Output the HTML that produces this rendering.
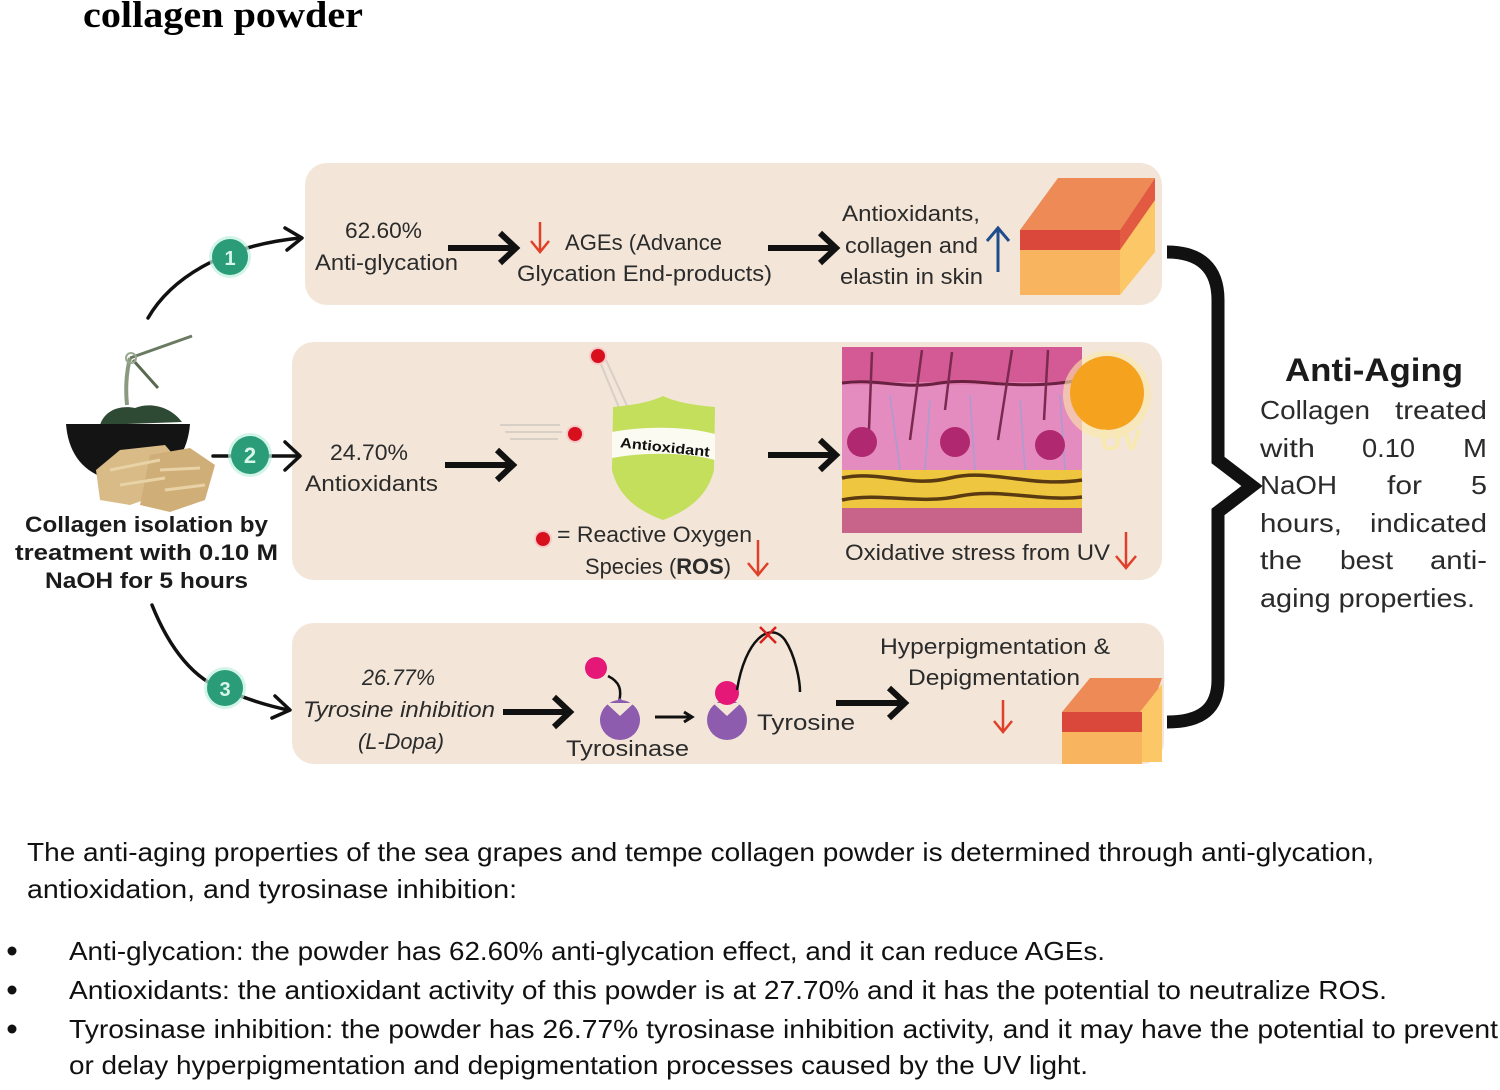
<!DOCTYPE html>
<html><head><meta charset="utf-8"><style>
html,body{margin:0;padding:0;background:#fff;}
svg{display:block;}
text{font-family:"Liberation Sans",sans-serif;fill:#2b2b2b;}
.t{font-size:22px;}
.b{font-size:26px;fill:#111;}
</style></head><body>
<svg width="1500" height="1090" viewBox="0 0 1500 1090" xmlns="http://www.w3.org/2000/svg">
<!-- title -->
<text x="83" y="27" style="font-family:'Liberation Serif',serif;font-weight:bold;font-size:37px;fill:#000" textLength="280" lengthAdjust="spacingAndGlyphs">collagen powder</text>

<!-- panels -->
<rect x="305" y="163" width="857" height="142" rx="22" fill="#f3e6d8"/>
<rect x="292" y="342" width="870" height="238" rx="22" fill="#f3e6d8"/>
<rect x="292" y="623" width="872" height="141" rx="22" fill="#f3e6d8"/>

<!-- left plant / bowl / tempe -->
<g>
 <path d="M127,405 C125,385 127,370 130,358" stroke="#8a9a80" stroke-width="4" fill="none"/>
 <path d="M130,358 L192,336" stroke="#6a7a60" stroke-width="3" fill="none"/>
 <path d="M133,360 L158,388" stroke="#5a6a50" stroke-width="3" fill="none"/>
 <circle cx="131" cy="358" r="5" fill="none" stroke="#9aa890" stroke-width="2"/>
 <path d="M100,425 C105,410 120,405 135,408 C150,402 170,406 182,422 Z" fill="#2f4a34"/>
 <path d="M66,424 L190,424 C188,450 175,472 150,478 L105,478 C80,470 68,450 66,424 Z" fill="#141414"/>
 <path d="M96,470 L120,450 L165,445 L178,460 L172,490 L130,505 L100,500 Z" fill="#d9bb87"/>
 <path d="M150,455 L190,448 L215,465 L205,500 L170,512 L140,505 Z" fill="#cfae78"/>
 <path d="M110,470 L160,460 M120,485 L165,478 M160,470 L200,468 M165,490 L205,485" stroke="#e8d2a6" stroke-width="3" fill="none"/>
</g>
<text x="25" y="532" style="font-weight:bold;font-size:22px;fill:#1b1b1b" textLength="243" lengthAdjust="spacingAndGlyphs">Collagen isolation by</text>
<text x="15" y="560" style="font-weight:bold;font-size:22px;fill:#1b1b1b" textLength="263" lengthAdjust="spacingAndGlyphs">treatment with 0.10 M</text>
<text x="45" y="588" style="font-weight:bold;font-size:22px;fill:#1b1b1b" textLength="203" lengthAdjust="spacingAndGlyphs">NaOH for 5 hours</text>

<!-- connectors -->
<g stroke="#111" fill="none" stroke-linecap="round" stroke-linejoin="round">
 <path d="M148,318 C170,280 220,246 300,238" stroke-width="3.5"/>
 <polyline points="285,228 302,238 287,250" stroke-width="3.5"/>
 <path d="M213,456 L298,456" stroke-width="3.5"/>
 <polyline points="285,442 300,456 285,470" stroke-width="3.5"/>
 <path d="M152,605 C170,650 195,680 225,690 C250,700 265,705 288,710" stroke-width="3.5"/>
 <polyline points="275,696 290,710 272,718" stroke-width="3.5"/>
</g>
<g>
 <circle cx="230" cy="257" r="21" fill="#bff0e0" opacity="0.7"/>
 <circle cx="230" cy="257" r="18" fill="#2a9d78"/>
 <text x="230" y="265" text-anchor="middle" style="font-size:20px;font-weight:bold;fill:#d8f5ea">1</text>
 <circle cx="250" cy="455" r="22" fill="#bff0e0" opacity="0.7"/>
 <circle cx="250" cy="455" r="19" fill="#2a9d78"/>
 <text x="250" y="463" text-anchor="middle" style="font-size:22px;font-weight:bold;fill:#d8f5ea">2</text>
 <circle cx="225" cy="688" r="21" fill="#bff0e0" opacity="0.7"/>
 <circle cx="225" cy="688" r="18" fill="#2a9d78"/>
 <text x="225" y="696" text-anchor="middle" style="font-size:20px;font-weight:bold;fill:#d8f5ea">3</text>
</g>

<!-- thick arrows -->
<g stroke="#111" fill="none" stroke-width="6" stroke-linejoin="miter">
 <path d="M448,248 L514,248"/><polyline points="500,233 516,248 500,263"/>
 <path d="M768,248 L834,248"/><polyline points="820,233 836,248 820,263"/>
 <path d="M445,465 L511,465"/><polyline points="497,450 513,465 497,480"/>
 <path d="M768,455 L834,455"/><polyline points="820,440 836,455 820,470"/>
 <path d="M503,712 L568,712"/><polyline points="554,697 570,712 554,727"/>
 <path d="M836,703 L903,703"/><polyline points="889,688 905,703 889,718"/>
</g>
<g stroke="#111" fill="none" stroke-width="3">
 <path d="M655,717 L690,717"/><polyline points="684,712 692,717 684,722"/>
</g>

<!-- red / blue small arrows -->
<g stroke="#e0402a" fill="none" stroke-width="2.5">
 <path d="M540,222 L540,251"/><polyline points="531,241 540,252 549,241"/>
 <path d="M758,540 L758,574"/><polyline points="748,563 758,575 768,563"/>
 <path d="M1126,532 L1126,567"/><polyline points="1116,556 1126,568 1136,556"/>
 <path d="M1003,700 L1003,731"/><polyline points="994,721 1003,732 1012,721"/>
</g>
<g stroke="#1f4d8c" fill="none" stroke-width="3">
 <path d="M998,272 L998,229"/><polyline points="987,241 998,228 1009,241"/>
</g>

<!-- panel 1 text -->
<text class="t" x="345" y="238" textLength="77" lengthAdjust="spacingAndGlyphs">62.60%</text>
<text class="t" x="315" y="270" textLength="143" lengthAdjust="spacingAndGlyphs">Anti-glycation</text>
<text class="t" x="565" y="250" textLength="157" lengthAdjust="spacingAndGlyphs">AGEs (Advance</text>
<text class="t" x="517" y="281" textLength="255" lengthAdjust="spacingAndGlyphs">Glycation End-products)</text>
<text class="t" x="842" y="221" textLength="138" lengthAdjust="spacingAndGlyphs">Antioxidants,</text>
<text class="t" x="845" y="253" textLength="133" lengthAdjust="spacingAndGlyphs">collagen and</text>
<text class="t" x="840" y="284" textLength="143" lengthAdjust="spacingAndGlyphs">elastin in skin</text>

<!-- cube 1 -->
<g>
 <polygon points="1020,230 1058,178 1155,178 1120,230" fill="#ee8a56"/>
 <polygon points="1120,230 1155,178 1155,252 1120,295" fill="#fcc766"/>
 <polygon points="1120,230 1155,178 1155,200 1120,250" fill="#e25a42"/>
 <rect x="1020" y="230" width="100" height="20" fill="#d9483a"/>
 <rect x="1020" y="250" width="100" height="45" fill="#f8b45e"/>
</g>

<!-- panel 2 -->
<text class="t" x="330" y="460" textLength="78" lengthAdjust="spacingAndGlyphs">24.70%</text>
<text class="t" x="305" y="491" textLength="133" lengthAdjust="spacingAndGlyphs">Antioxidants</text>
<g stroke="#d8cfc6" stroke-width="2" fill="none">
 <path d="M600,362 L620,410 M606,360 L628,408"/>
 <path d="M500,425 L560,425 M505,432 L562,432 M510,439 L558,439"/>
</g>
<circle cx="598" cy="356" r="9" fill="#f7c9c9"/><circle cx="598" cy="356" r="7" fill="#d8101e"/>
<circle cx="575" cy="434" r="9" fill="#f7c9c9"/><circle cx="575" cy="434" r="7" fill="#d8101e"/>
<circle cx="543" cy="539" r="9" fill="#f7c9c9"/><circle cx="543" cy="539" r="7" fill="#d8101e"/>
<path d="M613,407 C635,405 650,402 663,396 C676,402 692,405 715,407 L714,470 C708,495 690,510 663,520 C636,510 618,495 612,470 Z" fill="#c3df5c"/>
<path d="M612,432 C645,426 685,426 715,434 L715,460 C685,452 645,452 612,458 Z" fill="#fbfbf2"/>
<text x="620" y="452" transform="rotate(6 665 447)" style="font-weight:bold;font-size:14px;fill:#111" textLength="90" lengthAdjust="spacingAndGlyphs">Antioxidant</text>
<text class="t" x="557" y="542" textLength="195" lengthAdjust="spacingAndGlyphs">= Reactive Oxygen</text>
<text class="t" x="585" y="574" textLength="146" lengthAdjust="spacingAndGlyphs">Species (<tspan style="font-weight:bold">ROS</tspan>)</text>

<!-- skin cross section -->
<g>
 <rect x="842" y="347" width="240" height="186" fill="#e27fb2"/>
 <rect x="842" y="347" width="240" height="35" fill="#d45a95"/>
 <rect x="842" y="385" width="240" height="85" fill="#e48cbf"/>
 <path d="M842,383 C880,378 900,390 940,383 C980,377 1010,392 1082,380" stroke="#6a2040" stroke-width="3" fill="none"/>
 <g stroke="#7a2a50" stroke-width="2.5" fill="none">
  <path d="M872,352 L868,455"/><path d="M922,350 L910,440"/><path d="M952,352 L945,410"/>
  <path d="M1012,350 L998,440"/><path d="M1048,350 L1044,420"/>
 </g>
 <g stroke="#9aa0d8" stroke-width="1.5" fill="none" opacity="0.8">
  <path d="M890,395 L900,470 M930,400 L925,470 M970,395 L975,470 M1020,400 L1025,470 M1060,395 L1065,470"/>
 </g>
 <circle cx="862" cy="442" r="15" fill="#b02870"/><circle cx="955" cy="442" r="15" fill="#b02870"/><circle cx="1050" cy="445" r="15" fill="#b02870"/>
 <rect x="842" y="470" width="240" height="38" fill="#efc640"/>
 <path d="M842,478 C880,470 910,488 950,478 C990,468 1030,488 1082,480" stroke="#5a3a10" stroke-width="3.5" fill="none"/>
 <path d="M842,500 C880,492 920,505 960,496 C1000,488 1040,502 1082,497" stroke="#5a3a10" stroke-width="3.5" fill="none"/>
 <rect x="842" y="508" width="240" height="25" fill="#c8648a"/>
</g>
<circle cx="1107" cy="395" r="44" fill="#fbe7a8" opacity="0.6"/>
<circle cx="1107" cy="393" r="37" fill="#f5a21e"/>
<text x="1100" y="450" style="font-size:30px;font-weight:bold;fill:#f8e9b0">UV</text>
<text class="t" x="845" y="560" textLength="265" lengthAdjust="spacingAndGlyphs">Oxidative stress from UV</text>

<!-- panel 3 -->
<text class="t" x="362" y="685" style="font-style:italic" textLength="73" lengthAdjust="spacingAndGlyphs">26.77%</text>
<text class="t" x="303" y="717" style="font-style:italic" textLength="192" lengthAdjust="spacingAndGlyphs">Tyrosine inhibition</text>
<text class="t" x="358" y="749" style="font-style:italic" textLength="86" lengthAdjust="spacingAndGlyphs">(L-Dopa)</text>
<g>
 <circle cx="596" cy="668" r="11" fill="#e51877"/>
 <path d="M608,676 C620,682 622,690 619,702" stroke="#111" stroke-width="2.5" fill="none"/>
 <path d="M620,698 L640,718 A20,20 0 1 1 600,718 Z" fill="#8d5cae" transform="rotate(0)"/>
 <circle cx="620" cy="720" r="20" fill="#8d5cae"/>
 <polygon points="606,703 620,716 634,703" fill="#f3e6d8"/>
 <circle cx="727" cy="720" r="20" fill="#8d5cae"/>
 <polygon points="713,703 727,716 741,703" fill="#f3e6d8"/>
 <circle cx="727" cy="693" r="12" fill="#e51877"/>
 <path d="M737,690 C745,640 770,620 785,640 C795,655 800,680 800,692" stroke="#111" stroke-width="2.5" fill="none"/>
 <path d="M760,627 L776,643 M776,627 L760,643" stroke="#d8201e" stroke-width="2.5"/>
</g>
<text class="t" x="566" y="756" textLength="123" lengthAdjust="spacingAndGlyphs">Tyrosinase</text>
<text class="t" x="757" y="730" textLength="98" lengthAdjust="spacingAndGlyphs">Tyrosine</text>
<text class="t" x="880" y="654" textLength="230" lengthAdjust="spacingAndGlyphs">Hyperpigmentation &amp;</text>
<text class="t" x="908" y="685" textLength="172" lengthAdjust="spacingAndGlyphs">Depigmentation</text>
<g>
 <polygon points="1062,712 1090,678 1162,678 1150,712" fill="#ee8a56"/>
 <polygon points="1140,712 1162,684 1162,762 1140,762" fill="#fcc766"/>
 <rect x="1062" y="712" width="80" height="20" fill="#d9483a"/>
 <rect x="1062" y="732" width="80" height="32" fill="#f8b45e"/>
</g>

<!-- brace -->
<path d="M1167,252 C1200,252 1218,268 1218,300 L1218,460 L1252,486 L1218,512 L1218,680 C1218,710 1200,722 1167,722" stroke="#111" stroke-width="13" fill="none" stroke-linejoin="miter"/>

<!-- anti-aging text -->
<text x="1285" y="381" style="font-weight:bold;font-size:32px;fill:#1b1b1b" textLength="178" lengthAdjust="spacingAndGlyphs">Anti-Aging</text>
<g style="font-size:26px">
 <text x="1260" y="419" textLength="110" lengthAdjust="spacingAndGlyphs">Collagen</text>
 <text x="1395" y="419" textLength="92" lengthAdjust="spacingAndGlyphs">treated</text>
 <text x="1260" y="457" textLength="55" lengthAdjust="spacingAndGlyphs">with</text>
 <text x="1362" y="457" textLength="53" lengthAdjust="spacingAndGlyphs">0.10</text>
 <text x="1463" y="457" textLength="24" lengthAdjust="spacingAndGlyphs">M</text>
 <text x="1260" y="494" textLength="77" lengthAdjust="spacingAndGlyphs">NaOH</text>
 <text x="1387" y="494" textLength="35" lengthAdjust="spacingAndGlyphs">for</text>
 <text x="1471" y="494" textLength="16" lengthAdjust="spacingAndGlyphs">5</text>
 <text x="1260" y="532" textLength="82" lengthAdjust="spacingAndGlyphs">hours,</text>
 <text x="1370" y="532" textLength="117" lengthAdjust="spacingAndGlyphs">indicated</text>
 <text x="1260" y="569" textLength="42" lengthAdjust="spacingAndGlyphs">the</text>
 <text x="1340" y="569" textLength="53" lengthAdjust="spacingAndGlyphs">best</text>
 <text x="1430" y="569" textLength="57" lengthAdjust="spacingAndGlyphs">anti-</text>
 <text x="1260" y="607" textLength="215" lengthAdjust="spacingAndGlyphs">aging properties.</text>
</g>

<!-- bottom text -->
<text class="b" x="27" y="861" textLength="1347" lengthAdjust="spacingAndGlyphs">The anti-aging properties of the sea grapes and tempe collagen powder is determined through anti-glycation,</text>
<text class="b" x="27" y="898" textLength="490" lengthAdjust="spacingAndGlyphs">antioxidation, and tyrosinase inhibition:</text>
<circle cx="12" cy="951" r="4.5" fill="#111"/>
<circle cx="12" cy="990" r="4.5" fill="#111"/>
<circle cx="12" cy="1029" r="4.5" fill="#111"/>
<text class="b" x="69" y="960" textLength="1036" lengthAdjust="spacingAndGlyphs">Anti-glycation: the powder has 62.60% anti-glycation effect, and it can reduce AGEs.</text>
<text class="b" x="69" y="999" textLength="1318" lengthAdjust="spacingAndGlyphs">Antioxidants: the antioxidant activity of this powder is at 27.70% and it has the potential to neutralize ROS.</text>
<text class="b" x="69" y="1038" textLength="1429" lengthAdjust="spacingAndGlyphs">Tyrosinase inhibition: the powder has 26.77% tyrosinase inhibition activity, and it may have the potential to prevent</text>
<text class="b" x="69" y="1074" textLength="1019" lengthAdjust="spacingAndGlyphs">or delay hyperpigmentation and depigmentation processes caused by the UV light.</text>
</svg>
</body></html>
